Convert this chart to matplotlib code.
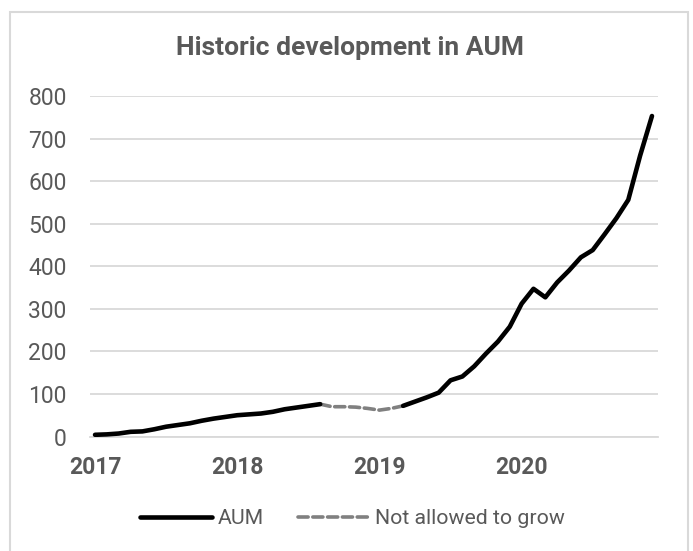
import matplotlib
matplotlib.use("Agg")
import matplotlib.pyplot as plt
from matplotlib.patches import Rectangle

plt.rcParams['font.family'] = ['Roboto', 'DejaVu Sans']

# Monthly AUM, Jan 2017 .. Dec 2020
months = list(range(48))
aum = [4, 5, 7, 11, 12, 17, 23, 27, 31, 37, 42, 46,
       50, 52, 54, 58, 64, 68, 72, 76, 70, 70, 69, 66,
       62, 66, 72, 82, 92, 103, 132, 141, 165, 195, 223, 258,
       312, 347, 327, 362, 390, 421, 438, 475, 513, 556, 660, 753]
growth_stop_start = 19   # Aug 2018
growth_stop_end = 26     # Mar 2019
year_ticks = [0, 12, 24, 36]
year_labels = ['2017', '2018', '2019', '2020']
y_ticks = [0, 100, 200, 300, 400, 500, 600, 700, 800]

TXT = '#595959'
GRID = '#d9d9d9'

W, H = 693, 551
fig = plt.figure(figsize=(W / 100, H / 100), dpi=100)
fig.patch.set_facecolor('white')
fig.patches.append(Rectangle((10 / W, -0.02), 678 / W, 1 - 12 / H + 0.02,
                             transform=fig.transFigure, fill=False,
                             edgecolor=GRID, linewidth=1.5))

left, right = 90.3 / W, 657.9 / W
bottom, top = 1 - 436.5 / H, 1 - 96 / H
ax = fig.add_axes([left, bottom, right - left, top - bottom])

x_a1 = months[:growth_stop_start + 1]
y_a1 = aum[:growth_stop_start + 1]
x_n = months[growth_stop_start:growth_stop_end + 1]
y_n = aum[growth_stop_start:growth_stop_end + 1]
x_a2 = months[growth_stop_end:]
y_a2 = aum[growth_stop_end:]

l1, = ax.plot(x_a1, y_a1, color='black', lw=3.3, solid_capstyle='round',
              solid_joinstyle='round', label='AUM', zorder=3)
ax.plot(x_a2, y_a2, color='black', lw=3.3, solid_capstyle='round',
        solid_joinstyle='round', zorder=3)
l2, = ax.plot(x_n, y_n, color='#808080', lw=2.6, linestyle=(0, (2.8, 1.3)),
              dash_capstyle='round', label='Not allowed to grow', zorder=2)

ax.set_xlim(-0.4, 47.5)
ax.set_ylim(0, 800)
ax.set_yticks(y_ticks)
ax.set_xticks(year_ticks)
ax.set_xticklabels(year_labels, fontweight='bold')
ax.tick_params(axis='both', length=0, labelcolor=TXT, labelsize=16.5)
ax.tick_params(axis='y', pad=17)
ax.tick_params(axis='x', pad=14)
ax.grid(axis='y', color=GRID, lw=1.3)
ax.set_axisbelow(True)
for s in ['top', 'right', 'left']:
    ax.spines[s].set_visible(False)
ax.spines['bottom'].set_color(GRID)
ax.spines['bottom'].set_linewidth(1.3)

fig.text(349.5 / W, 1 - 48 / H, 'Historic development in AUM', ha='center',
         va='center', fontsize=19, fontweight='bold', color=TXT)

leg = fig.legend(handles=[l1, l2], loc='center',
                 bbox_to_anchor=(352.5 / W, 1 - 519 / H), ncol=2, frameon=False,
                 fontsize=15.3, handlelength=3.4, handletextpad=0.25,
                 columnspacing=1.6, labelcolor=TXT)

fig.savefig('out.png', dpi=100, facecolor='white')
